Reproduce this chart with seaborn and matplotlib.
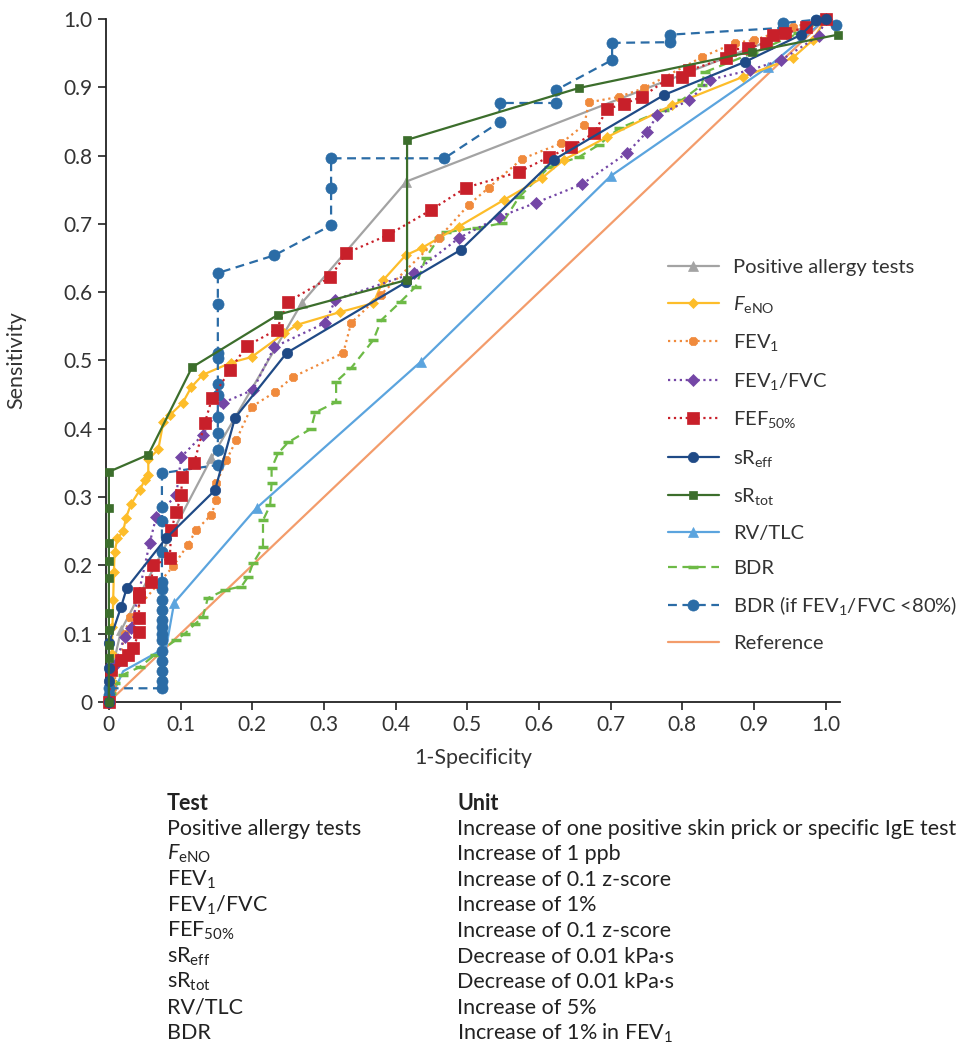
import matplotlib
matplotlib.use('Agg')
import matplotlib.pyplot as plt
import seaborn as sns

# --- data ---
allergy_x = [0, 0.003, 0.017, 0.143, 0.269, 0.415, 1.0]
allergy_y = [0, 0.04, 0.105, 0.357, 0.584, 0.762, 1.0]

feno_x = [0, 0.003, 0.004, 0.005, 0.006, 0.007, 0.008, 0.012, 0.02, 0.024, 0.031, 0.043, 0.05, 0.055, 0.055,
          0.069, 0.076, 0.085, 0.103, 0.115, 0.131, 0.171, 0.199, 0.245, 0.262, 0.323, 0.369, 0.383, 0.414,
          0.437, 0.488, 0.551, 0.604, 0.635, 0.695, 0.786, 0.884, 0.954, 0.982, 1.0]
feno_y = [0, 0.03, 0.07, 0.11, 0.15, 0.19, 0.22, 0.24, 0.25, 0.27, 0.29, 0.31, 0.325, 0.333, 0.355,
          0.37, 0.41, 0.42, 0.438, 0.461, 0.479, 0.497, 0.505, 0.54, 0.552, 0.571, 0.584, 0.618, 0.654,
          0.665, 0.696, 0.735, 0.767, 0.794, 0.827, 0.874, 0.915, 0.943, 0.969, 1.0]

fev1_x = [0, 0.005, 0.015, 0.022, 0.029, 0.09, 0.11, 0.122, 0.143, 0.15, 0.15, 0.164, 0.178, 0.199, 0.232,
          0.257, 0.327, 0.338, 0.379, 0.46, 0.502, 0.53, 0.576, 0.631, 0.663, 0.67, 0.712, 0.747, 0.827,
          0.873, 0.9, 0.954, 1.0]
fev1_y = [0, 0.02, 0.06, 0.1, 0.124, 0.199, 0.23, 0.252, 0.274, 0.296, 0.32, 0.354, 0.384, 0.432, 0.454,
          0.476, 0.511, 0.555, 0.596, 0.679, 0.728, 0.753, 0.795, 0.818, 0.845, 0.878, 0.886, 0.899, 0.944,
          0.965, 0.969, 0.988, 1.0]

fvc_x = [0, 0.008, 0.022, 0.031, 0.057, 0.066, 0.094, 0.101, 0.131, 0.159, 0.201, 0.231, 0.302, 0.316,
         0.425, 0.488, 0.544, 0.596, 0.66, 0.723, 0.751, 0.765, 0.81, 0.838, 0.894, 0.938, 0.99, 1.0]
fvc_y = [0, 0.054, 0.095, 0.108, 0.233, 0.271, 0.303, 0.359, 0.391, 0.438, 0.457, 0.52, 0.555, 0.589,
         0.628, 0.679, 0.71, 0.731, 0.758, 0.804, 0.835, 0.859, 0.881, 0.911, 0.925, 0.94, 0.975, 1.0]

fef_x = [0, 0.003, 0.017, 0.027, 0.034, 0.042, 0.042, 0.042, 0.042, 0.059, 0.062, 0.085, 0.087, 0.094,
         0.101, 0.102, 0.119, 0.134, 0.144, 0.169, 0.192, 0.234, 0.25, 0.309, 0.331, 0.39, 0.449, 0.498,
         0.572, 0.614, 0.645, 0.677, 0.695, 0.719, 0.744, 0.778, 0.8, 0.81, 0.861, 0.866, 0.891, 0.917,
         0.926, 0.943, 0.973, 1.0]
fef_y = [0, 0.047, 0.061, 0.069, 0.079, 0.102, 0.123, 0.154, 0.16, 0.176, 0.2, 0.211, 0.252, 0.278,
         0.303, 0.329, 0.35, 0.409, 0.445, 0.486, 0.521, 0.545, 0.586, 0.622, 0.657, 0.684, 0.72, 0.753,
         0.776, 0.798, 0.813, 0.833, 0.868, 0.876, 0.886, 0.911, 0.915, 0.925, 0.943, 0.955, 0.957, 0.965,
         0.977, 0.979, 0.988, 1.0]

sreff_x = [0, 0, 0, 0, 0.017, 0.025, 0.08, 0.148, 0.176, 0.248, 0.415, 0.491, 0.621, 0.775, 0.887, 0.966,
           0.987, 1.0]
sreff_y = [0, 0.03, 0.05, 0.086, 0.139, 0.167, 0.24, 0.31, 0.416, 0.511, 0.615, 0.662, 0.794, 0.889, 0.937,
           0.977, 0.999, 1.0]

srtot_x = [0, 0, 0, 0, 0, 0, 0, 0, 0, 0, 0.055, 0.116, 0.236, 0.416, 0.416, 0.656, 0.897, 1.017]
srtot_y = [0, 0.064, 0.083, 0.105, 0.13, 0.182, 0.206, 0.233, 0.284, 0.337, 0.362, 0.49, 0.567, 0.618,
           0.823, 0.899, 0.952, 0.977]

rvtlc_x = [0, 0.02, 0.08, 0.091, 0.206, 0.435, 0.70, 0.92, 1.0]
rvtlc_y = [0, 0.045, 0.08, 0.145, 0.284, 0.498, 0.77, 0.93, 1.0]

bdr_x = [0, 0.003, 0.008, 0.02, 0.043, 0.064, 0.094, 0.106, 0.12, 0.131, 0.138, 0.162, 0.185, 0.194,
         0.201, 0.215, 0.215, 0.225, 0.227, 0.227, 0.236, 0.25, 0.282, 0.288, 0.317, 0.317, 0.338, 0.369,
         0.38, 0.407, 0.428, 0.442, 0.46, 0.471, 0.514, 0.549, 0.572, 0.614, 0.656, 0.684, 0.712, 0.775,
         0.799, 0.827, 0.831, 0.898, 0.962, 1.0]
bdr_y = [0, 0.013, 0.028, 0.04, 0.051, 0.069, 0.091, 0.1, 0.114, 0.124, 0.152, 0.164, 0.169, 0.183,
         0.203, 0.227, 0.266, 0.288, 0.32, 0.342, 0.364, 0.38, 0.4, 0.424, 0.439, 0.469, 0.489, 0.53,
         0.559, 0.586, 0.608, 0.65, 0.679, 0.688, 0.694, 0.701, 0.739, 0.783, 0.798, 0.816, 0.84, 0.867,
         0.881, 0.903, 0.922, 0.95, 0.979, 1.0]

bdr80_x = [0, 0, 0, 0.074, 0.074, 0.074, 0.074, 0.074, 0.074, 0.074, 0.074, 0.074, 0.074, 0.074, 0.074,
           0.074, 0.074, 0.074, 0.074, 0.074, 0.152, 0.152, 0.152, 0.152, 0.152, 0.152, 0.152, 0.152,
           0.152, 0.152, 0.231, 0.31, 0.31, 0.31, 0.468, 0.545, 0.545, 0.624, 0.624, 0.702, 0.702, 0.783,
           0.783, 0.94, 0.94, 0.987, 1.015]
bdr80_y = [0, 0.01, 0.02, 0.02, 0.03, 0.045, 0.06, 0.075, 0.09, 0.1, 0.11, 0.12, 0.135, 0.15, 0.165,
           0.175, 0.22, 0.265, 0.285, 0.335, 0.347, 0.369, 0.394, 0.417, 0.449, 0.466, 0.503, 0.511,
           0.583, 0.628, 0.654, 0.698, 0.753, 0.796, 0.796, 0.849, 0.877, 0.877, 0.896, 0.94, 0.965, 0.966,
           0.977, 0.987, 0.994, 0.999, 0.991]

ref_x = [0, 1.0]
ref_y = [0, 1.0]

# legend labels / table text
series_labels = ['Positive allergy tests', r'$F_{\mathrm{eNO}}$', r'FEV$_1$', r'FEV$_1$/FVC',
                 r'FEF$_{50\%}$', r'sR$_{\mathrm{eff}}$', r'sR$_{\mathrm{tot}}$', 'RV/TLC', 'BDR',
                 r'BDR (if FEV$_1$/FVC <80%)', 'Reference']
table_tests = ['Positive allergy tests', r'$F_{\mathrm{eNO}}$', r'FEV$_1$', r'FEV$_1$/FVC',
               r'FEF$_{50\%}$', r'sR$_{\mathrm{eff}}$', r'sR$_{\mathrm{tot}}$', 'RV/TLC', 'BDR']
table_units = ['Increase of one positive skin prick or specific IgE test', 'Increase of 1 ppb',
               'Increase of 0.1 z-score', 'Increase of 1%', 'Increase of 0.1 z-score',
               'Decrease of 0.01 kPa\u00b7s', 'Decrease of 0.01 kPa\u00b7s', 'Increase of 5%',
               r'Increase of 1% in FEV$_1$']

sns.set_theme(style='ticks')
plt.rcParams['font.family'] = ['Lato', 'DejaVu Sans']
plt.rcParams['mathtext.fontset'] = 'custom'
plt.rcParams['mathtext.rm'] = 'Lato'
plt.rcParams['mathtext.it'] = 'Lato:italic'
plt.rcParams['mathtext.bf'] = 'Lato:bold'

fig = plt.figure(figsize=(9.69, 10.48), dpi=100)
ax = fig.add_axes([0.1094, 0.3302, 0.7575, 0.6517])

# (x, y, colour, marker, size, linestyle, zorder, markevery)
styles = [
    (allergy_x, allergy_y, '#a3a3a3', '^', 7, '-', 3, [2, 3, 4, 5]),
    (feno_x, feno_y, '#fdbd2a', 'D', 5, '-', 4, None),
    (fev1_x, fev1_y, '#f08a3c', '8', 7, ':', 4, None),
    (fvc_x, fvc_y, '#7446a6', 'D', 6, ':', 4, None),
    (fef_x, fef_y, '#c8202a', 's', 8, ':', 5, None),
    (sreff_x, sreff_y, '#1f4a86', 'o', 7.5, '-', 5, None),
    (srtot_x, srtot_y, '#3c6e2c', 's', 6, '-', 5, None),
    (rvtlc_x, rvtlc_y, '#5ba4de', '^', 7, '-', 3, [3, 4, 5, 6, 7]),
    (bdr_x, bdr_y, '#6dba46', '_', 7, (0, (4, 2.5)), 3, None),
    (bdr80_x, bdr80_y, '#2b6ca6', 'o', 8, (0, (4, 2.5)), 4, None),
    (ref_x, ref_y, '#f39c6b', None, 0, '-', 2, None),
]

for (xs, ys, col, mk, ms, ls, z, mev), lab in zip(styles, series_labels):
    kw = dict(color=col, linestyle=ls, linewidth=1.6, label=lab, sort=False, estimator=None,
              clip_on=False, zorder=z, ax=ax)
    if mk is not None:
        kw.update(marker=mk, markersize=ms, markeredgecolor=col,
                  markeredgewidth=2.5 if mk == '_' else 0.5)
        if mev is not None:
            kw['markevery'] = mev
    sns.lineplot(x=xs, y=ys, **kw)

ax.set_xlim(-0.004, 1.02)
ax.set_ylim(0, 1.0)
ticks = [0, 0.1, 0.2, 0.3, 0.4, 0.5, 0.6, 0.7, 0.8, 0.9, 1.0]
tick_labels = ['0', '0.1', '0.2', '0.3', '0.4', '0.5', '0.6', '0.7', '0.8', '0.9', '1.0']
ax.set_xticks(ticks)
ax.set_xticklabels(tick_labels)
ax.set_yticks(ticks)
ax.set_yticklabels(tick_labels)
ax.tick_params(direction='out', length=6, width=1.2, colors='#222222', labelsize=15, labelcolor='#333333')
for s in ['left', 'bottom']:
    ax.spines[s].set_linewidth(1.3)
    ax.spines[s].set_color('#222222')
sns.despine(ax=ax)

ax.set_xlabel('1-Specificity', fontsize=15.5, color='#333333', labelpad=9)
ax.set_ylabel('Sensitivity', fontsize=15.5, color='#333333', labelpad=27)

leg = ax.legend(loc='upper left', bbox_to_anchor=(0.755, 0.66), frameon=False, fontsize=14.5,
                handlelength=2.5, handletextpad=0.7, labelspacing=0.87, borderaxespad=0)
for t in leg.get_texts():
    t.set_color('#333333')

# table under the chart
y0 = 1 - 803 / 1048
step = 25.6 / 1048
fig.text(0.172, y0, 'Test', fontsize=15.5, fontweight='bold', va='center', color='#222222')
fig.text(0.472, y0, 'Unit', fontsize=15.5, fontweight='bold', va='center', color='#222222')
for i, (tst, unit) in enumerate(zip(table_tests, table_units)):
    yy = y0 - (i + 1) * step
    fig.text(0.172, yy, tst, fontsize=15.5, va='center', color='#222222')
    fig.text(0.472, yy, unit, fontsize=15.5, va='center', color='#222222')

fig.savefig('out.png', dpi=100)
